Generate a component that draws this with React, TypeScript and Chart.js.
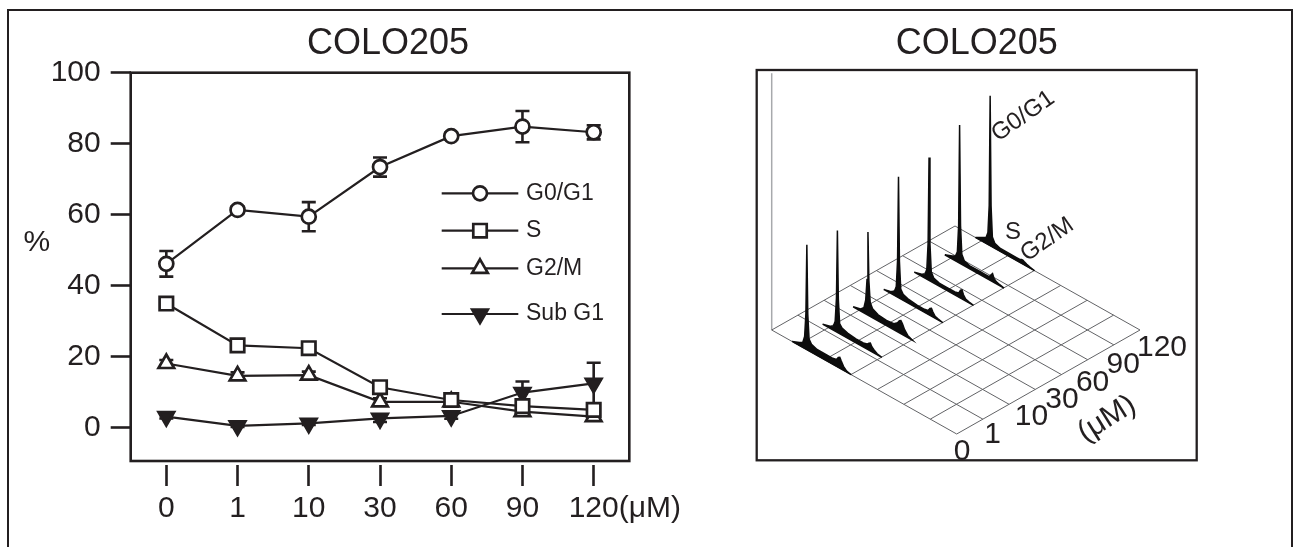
import React, { useEffect, useRef } from 'react';
import { Chart, registerables } from 'chart.js';

Chart.register(...registerables);

const INK = '#231f20';
const FONT = "'Liberation Sans', Arial, Helvetica, sans-serif";

// ---------------- left panel data ----------------
const DOSE_LABELS = ['0', '1', '10', '30', '60', '90', '120'];
const Y_TICKS = [0, 20, 40, 60, 80, 100];
const SERIES_NAMES = ['G0/G1', 'S', 'G2/M', 'Sub G1'];
const G0G1 = [46.1, 61.3, 59.4, 73.4, 82.1, 84.8, 83.2];
const G0G1_ERR = [3.6, 1.0, 4.1, 2.7, 1.0, 4.4, 2.0];
const S_PHASE = [34.9, 23.1, 22.3, 11.3, 7.7, 6.0, 4.9];
const S_ERR = [1.0, 1.0, 1.0, 1.0, 0.8, 0.8, 1.0];
const G2M = [18.0, 14.5, 14.7, 7.2, 7.2, 4.4, 3.0];
const G2M_ERR = [1.0, 1.0, 1.0, 1.0, 0.8, 1.0, 1.0];
const SUBG1 = [3.0, 0.4, 1.1, 2.5, 3.2, 9.8, 12.4];
const SUBG1_ERR = [0.5, 0.3, 0.4, 1.0, 0.8, 3.1, 5.8];

// ---------------- right panel data (DNA histograms) ----------------
const DNA_CHANNELS = [110, 150, 168, 178, 185, 190, 195, 202, 215, 245, 290, 330, 350, 360, 368, 376, 388, 405, 430];
const HIST_0 = [0, 3, 5, 12, 36, 105, 36, 12, 8, 6, 6, 6, 7, 10, 11, 8, 4, 1, 0];
const HIST_1 = [0, 2, 4, 10, 34, 102, 34, 10, 7, 5, 4, 4, 5, 7, 8, 5, 3, 1, 0];
const HIST_10 = [0, 2, 5, 14, 35, 83, 35, 14, 9, 6, 5, 6, 9, 12, 13, 11, 6, 2, 0];
const HIST_30 = [0, 2, 4, 10, 37, 121, 37, 10, 6, 4, 3, 3, 4, 7, 8, 5, 2, 1, 0];
const HIST_60 = [0, 2, 4, 10, 37, 123, 37, 10, 5, 3, 3, 3, 4, 8, 9, 5, 2, 1, 0];
const HIST_90 = [0, 3, 5, 10, 38, 138, 38, 10, 5, 3, 3, 3, 3, 6, 8, 4, 2, 1, 0];
const HIST_120 = [0, 4, 6, 12, 40, 150, 40, 10, 5, 3, 3, 3, 3, 4, 4, 3, 2, 1, 0];
const HISTOGRAMS = [HIST_0, HIST_1, HIST_10, HIST_30, HIST_60, HIST_90, HIST_120];
const PEAK_LABELS = ['G0/G1', 'S', 'G2/M'];

// ---------------- helpers ----------------
function drawMarker(ctx: CanvasRenderingContext2D, style: string, x: number, y: number, r: number, rotation: number) {
  ctx.beginPath();
  if (style === 'circle') {
    ctx.arc(x, y, r, 0, Math.PI * 2);
  } else if (style === 'rect') {
    const s = r * Math.SQRT1_2;
    ctx.rect(x - s, y - s, 2 * s, 2 * s);
  } else {
    let rad = (rotation * Math.PI) / 180;
    for (let i = 0; i < 3; i++) {
      const px = x + Math.sin(rad) * r;
      const py = y - Math.cos(rad) * r;
      if (i === 0) ctx.moveTo(px, py);
      else ctx.lineTo(px, py);
      rad += (2 * Math.PI) / 3;
    }
    ctx.closePath();
  }
  ctx.fill();
  ctx.stroke();
}

const framePlugin = {
  id: 'frame',
  afterDraw(chart: any, _a: any, opts: any) {
    const { ctx, chartArea: a } = chart;
    ctx.save();
    ctx.strokeStyle = opts.color || INK;
    ctx.lineWidth = opts.width || 2;
    ctx.strokeRect(a.left, a.top, a.right - a.left, a.bottom - a.top);
    ctx.restore();
  },
};

const errorBarPlugin = {
  id: 'errorBars',
  beforeDatasetsDraw(chart: any) {
    const { ctx } = chart;
    const y = chart.scales.y;
    chart.data.datasets.forEach((ds: any, i: number) => {
      if (!ds.errors) return;
      const meta = chart.getDatasetMeta(i);
      ctx.save();
      ctx.strokeStyle = INK;
      ctx.lineWidth = 2.6;
      meta.data.forEach((pt: any, j: number) => {
        const v = ds.data[j];
        const e = ds.errors[j];
        const top = y.getPixelForValue(v + e);
        const bot = y.getPixelForValue(v - e);
        const cap = 7;
        ctx.beginPath();
        ctx.moveTo(pt.x, top);
        ctx.lineTo(pt.x, bot);
        ctx.moveTo(pt.x - cap, top);
        ctx.lineTo(pt.x + cap, top);
        ctx.moveTo(pt.x - cap, bot);
        ctx.lineTo(pt.x + cap, bot);
        ctx.stroke();
      });
      ctx.restore();
    });
  },
};

const LEGEND_ROWS = [120.6, 158.0, 195.6, 241.3];
const legendPlugin = {
  id: 'insideLegend',
  afterDraw(chart: any) {
    const { ctx, chartArea: a } = chart;
    ctx.save();
    chart.data.datasets.forEach((ds: any, i: number) => {
      const y = a.top + LEGEND_ROWS[i];
      const x1 = a.left + 311;
      const x2 = a.left + 387.6;
      ctx.strokeStyle = INK;
      ctx.lineWidth = 2.2;
      ctx.beginPath();
      ctx.moveTo(x1, y);
      ctx.lineTo(x2, y);
      ctx.stroke();
      ctx.lineWidth = 2.7;
      ctx.fillStyle = ds.pointBackgroundColor;
      drawMarker(ctx, ds.pointStyle, (x1 + x2) / 2, y, ds.pointRadius, ds.pointRotation || 0);
      ctx.fillStyle = INK;
      ctx.font = `23px ${FONT}`;
      ctx.textAlign = 'left';
      ctx.textBaseline = 'middle';
      ctx.fillText(ds.label, a.left + 395.3, y);
    });
    ctx.restore();
  },
};

const leftTextPlugin = {
  id: 'leftText',
  afterDraw(chart: any) {
    const { ctx, chartArea: a } = chart;
    const x = chart.scales.x;
    ctx.save();
    ctx.fillStyle = INK;
    ctx.font = `30px ${FONT}`;
    const last = DOSE_LABELS.length - 1;
    const px = x.getPixelForValue(last);
    const w = ctx.measureText(DOSE_LABELS[last]).width;
    ctx.textAlign = 'left';
    ctx.textBaseline = 'middle';
    ctx.fillText('(\u03bcM)', px + w / 2, a.bottom + 25 + 5 + 30 * 0.6);
    ctx.textAlign = 'center';
    ctx.fillText('%', 36.8, 243);
    // panel title
    ctx.font = `36px ${FONT}`;
    ctx.fillText('COLO205', 388, 44);
    ctx.restore();
  },
};

// ---------------- right panel projection ----------------
const RBOX = { left: 756.7, top: 70, right: 1196.7, bottom: 460.3 };
const FL = { x: 771.7, y: 330 };
const FA = { x: 185, y: 104 };
const FB = { x: 183.3, y: -104 };
const GRID_N = 7;

function floorPt(s: number, t: number) {
  return { x: FL.x + s * FA.x + t * FB.x, y: FL.y + s * FA.y + t * FB.y };
}
function toVal(p: { x: number; y: number }) {
  return { x: p.x - RBOX.left, y: p.y - RBOX.top };
}
function histPt(ch: number, k: number, h: number) {
  const p = floorPt(ch / 1000, k / (HISTOGRAMS.length - 1));
  return toVal({ x: p.x, y: p.y - h });
}

const rightTextPlugin = {
  id: 'rightText',
  afterDraw(chart: any) {
    const { ctx } = chart;
    const ox = 740;
    ctx.save();
    ctx.fillStyle = INK;
    ctx.font = `30px ${FONT}`;
    ctx.textAlign = 'left';
    ctx.textBaseline = 'alphabetic';
    DOSE_LABELS.forEach((lab, k) => {
      const p = floorPt(1, k / (DOSE_LABELS.length - 1));
      ctx.fillText(lab, p.x - 3 - ox, p.y + 26);
    });
    ctx.save();
    ctx.translate(1107 - ox, 419);
    ctx.rotate((-32 * Math.PI) / 180);
    ctx.textAlign = 'center';
    ctx.textBaseline = 'middle';
    ctx.fillText('(\u03bcM)', 0, 0);
    ctx.restore();
    ctx.font = `24px ${FONT}`;
    ctx.save();
    ctx.translate(998 - ox, 142);
    ctx.rotate((-35 * Math.PI) / 180);
    ctx.textAlign = 'left';
    ctx.fillText(PEAK_LABELS[0], 0, 0);
    ctx.restore();
    ctx.textAlign = 'center';
    ctx.textBaseline = 'middle';
    ctx.font = `24px ${FONT}`;
    ctx.fillText(PEAK_LABELS[1], 1013 - ox, 232);
    ctx.save();
    ctx.translate(1027 - ox, 262);
    ctx.rotate((-35 * Math.PI) / 180);
    ctx.textAlign = 'left';
    ctx.textBaseline = 'alphabetic';
    ctx.fillText(PEAK_LABELS[2], 0, 0);
    ctx.restore();
    ctx.restore();
  },
};

export default function App() {
  const leftRef = useRef<HTMLCanvasElement>(null);
  const rightRef = useRef<HTMLCanvasElement>(null);

  useEffect(() => {
    Chart.defaults.font.family = FONT;
    Chart.defaults.color = INK;

    const pointCommon = { pointBorderColor: INK, pointBorderWidth: 2.7, borderColor: INK, borderWidth: 2.2 };
    const left = new Chart(leftRef.current!, {
      type: 'line',
      data: {
        labels: DOSE_LABELS,
        datasets: [
          { label: SERIES_NAMES[0], data: G0G1, errors: G0G1_ERR, pointStyle: 'circle', pointRadius: 7, pointBackgroundColor: '#ffffff', ...pointCommon },
          { label: SERIES_NAMES[1], data: S_PHASE, errors: S_ERR, pointStyle: 'rect', pointRadius: 9.5, pointBackgroundColor: '#ffffff', ...pointCommon },
          { label: SERIES_NAMES[2], data: G2M, errors: G2M_ERR, pointStyle: 'triangle', pointRadius: 9, pointBackgroundColor: '#ffffff', ...pointCommon },
          { label: SERIES_NAMES[3], data: SUBG1, errors: SUBG1_ERR, pointStyle: 'triangle', pointRotation: 180, pointRadius: 9, pointBackgroundColor: INK, ...pointCommon },
        ] as any,
      },
      options: {
        animation: false,
        responsive: false,
        events: [],
        layout: { padding: { left: 0, right: 70.7, top: 72.7, bottom: 0 } },
        plugins: {
          legend: { display: false },
          tooltip: { enabled: false },
          title: { display: false },
          frame: { width: 2.6 },
        } as any,
        scales: {
          x: {
            type: 'category',
            offset: true,
            border: { display: false },
            grid: {
              offset: false,
              drawOnChartArea: false,
              drawTicks: true,
              tickLength: 25,
              tickWidth: 2.6,
              tickColor: INK,
              tickBorderDash: [0, 4, 21, 40],
            },
            ticks: { font: { size: 30, family: FONT }, color: INK, padding: 5, maxRotation: 0, autoSkip: false },
            afterFit: (s: any) => {
              s.height = 86;
            },
          },
          y: {
            type: 'linear',
            min: -9.5,
            max: 100,
            border: { display: false },
            afterBuildTicks: (s: any) => {
              s.ticks = Y_TICKS.map((v) => ({ value: v }));
            },
            grid: { drawOnChartArea: false, drawTicks: true, tickLength: 20, tickWidth: 2.6, tickColor: INK },
            ticks: { font: { size: 30, family: FONT }, color: INK, padding: 10 },
            afterFit: (s: any) => {
              s.width = 130.7;
            },
          },
        } as any,
      },
      plugins: [framePlugin, errorBarPlugin, legendPlugin, leftTextPlugin],
    });

    // ---------- right panel ----------
    const gridSets: any[] = [];
    for (let i = 0; i <= GRID_N; i++) {
      gridSets.push({
        label: `gridA${i}`,
        data: [toVal(floorPt(i / GRID_N, 0)), toVal(floorPt(i / GRID_N, 1))],
        order: 100,
        borderColor: '#626366',
        borderWidth: 1,
        pointRadius: 0,
        fill: false,
      });
      gridSets.push({
        label: `gridB${i}`,
        data: [toVal(floorPt(0, i / GRID_N)), toVal(floorPt(1, i / GRID_N))],
        order: 100,
        borderColor: '#626366',
        borderWidth: 1,
        pointRadius: 0,
        fill: false,
      });
    }
    const wallData = [toVal({ x: FL.x, y: 73.3 }), toVal(floorPt(0, 0))];
    const histSets = HISTOGRAMS.map((counts, k) => {
      const pts = DNA_CHANNELS.map((ch, i) => histPt(ch, k, counts[i]));
      const back = [histPt(DNA_CHANNELS[DNA_CHANNELS.length - 1], k, 0), histPt(DNA_CHANNELS[0], k, 0)];
      return {
        label: `hist ${DOSE_LABELS[k]}`,
        data: [...pts, ...back],
        order: k,
        borderColor: '#0d0d0d',
        borderWidth: 1.5,
        backgroundColor: '#0d0d0d',
        fill: 'shape',
        pointRadius: 0,
        tension: 0,
      };
    });
    const right = new Chart(rightRef.current!, {
      type: 'line',
      data: {
        datasets: [
          ...histSets,
          ...gridSets,
          { label: 'wall', data: wallData, order: 101, borderColor: '#a7a9ac', borderWidth: 1.5, pointRadius: 0, fill: false },
        ] as any,
      },
      options: {
        animation: false,
        responsive: false,
        events: [],
        layout: { padding: { left: 16.7, right: 23.3, top: 0, bottom: 86.7 } },
        plugins: {
          legend: { display: false },
          tooltip: { enabled: false },
          title: {
            display: true,
            text: 'COLO205',
            fullSize: false,
            color: INK,
            font: { size: 36, weight: 'normal', family: FONT, lineHeight: 1.2 },
            padding: { top: 22.4, bottom: 4.4 },
          },
          frame: { width: 2.3 },
        } as any,
        scales: {
          x: { type: 'linear', display: false, min: 0, max: RBOX.right - RBOX.left },
          y: { type: 'linear', display: false, min: 0, max: RBOX.bottom - RBOX.top, reverse: true },
        },
      },
      plugins: [framePlugin, rightTextPlugin],
    });

    return () => {
      left.destroy();
      right.destroy();
    };
  }, []);

  return (
    <div style={{ position: 'fixed', left: 0, top: 0, width: 1301, height: 547, background: '#fff', overflow: 'hidden' }}>
      <div
        style={{
          position: 'absolute',
          left: 7,
          top: 9,
          width: 1286,
          height: 560,
          border: `2px solid ${INK}`,
          boxSizing: 'border-box',
        }}
      />
      <canvas ref={leftRef} width={700} height={547} style={{ position: 'absolute', left: 0, top: 0, width: 700, height: 547 }} />
      <canvas ref={rightRef} width={480} height={547} style={{ position: 'absolute', left: 740, top: 0, width: 480, height: 547 }} />
    </div>
  );
}
